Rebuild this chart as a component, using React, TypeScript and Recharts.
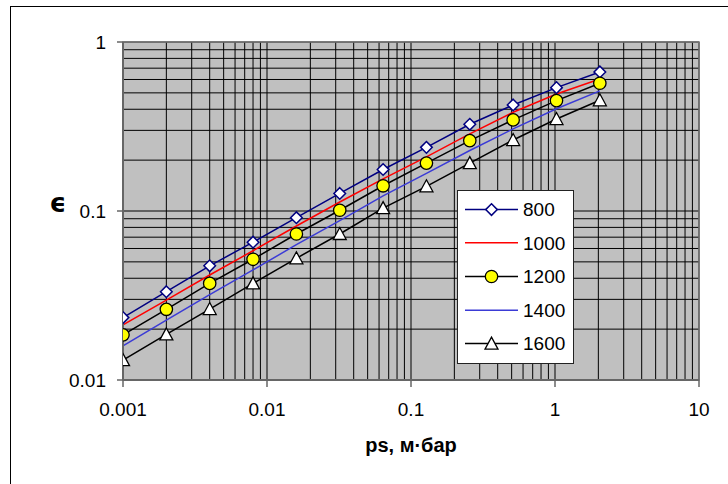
import React from "react";
import {
  LineChart,
  Line,
  XAxis,
  YAxis,
  CartesianGrid,
  ReferenceArea,
} from "recharts";

// ps, mbar
const pressure = [0.001, 0.002, 0.004, 0.008, 0.016, 0.032, 0.064, 0.128, 0.256, 0.512, 1.024, 2.048];

// epsilon per series
const eps800 = [0.0234, 0.0333, 0.0474, 0.0654, 0.0913, 0.127, 0.176, 0.238, 0.326, 0.424, 0.537, 0.665];
const eps1000 = [0.0212, 0.0297, 0.0418, 0.0582, 0.0815, 0.113, 0.155, 0.209, 0.286, 0.384, 0.492, 0.604];
const eps1200 = [0.0185, 0.0262, 0.0373, 0.0518, 0.0731, 0.101, 0.141, 0.192, 0.261, 0.346, 0.45, 0.57];
const eps1400 = [0.0159, 0.0226, 0.032, 0.0448, 0.0632, 0.0877, 0.123, 0.167, 0.228, 0.306, 0.403, 0.514];
const eps1600 = [0.0131, 0.0186, 0.0263, 0.0373, 0.0525, 0.0731, 0.104, 0.14, 0.192, 0.263, 0.35, 0.452];

const seriesNames = ["800", "1000", "1200", "1400", "1600"];

// grid lines (all) and labelled decades
const xTicks = [
  0.001, 0.002, 0.003, 0.004, 0.005, 0.006, 0.007, 0.008, 0.009,
  0.01, 0.02, 0.03, 0.04, 0.05, 0.06, 0.07, 0.08, 0.09,
  0.1, 0.2, 0.3, 0.4, 0.5, 0.6, 0.7, 0.8, 0.9,
  1, 2, 3, 4, 5, 6, 7, 8, 9, 10,
];
const yTicks = [
  0.01, 0.02, 0.03, 0.04, 0.05, 0.06, 0.07, 0.08, 0.09,
  0.1, 0.2, 0.3, 0.4, 0.5, 0.6, 0.7, 0.8, 0.9, 1,
];
const xLabels = [0.001, 0.01, 0.1, 1, 10];
const yLabels = [0.01, 0.1, 1];

const xTitle = "ps, м·бар";
const yTitle = "ϵ";

const data = pressure.map((p, i) => ({
  p,
  "800": eps800[i],
  "1000": eps1000[i],
  "1200": eps1200[i],
  "1400": eps1400[i],
  "1600": eps1600[i],
}));

const FONT = "'Liberation Sans', Arial, sans-serif";

type Marker = "diamond" | "circle" | "triangle" | null;

const styles: Record<string, { stroke: string; marker: Marker; fill: string }> = {
  "800": { stroke: "#000080", marker: "diamond", fill: "#ffffff" },
  "1000": { stroke: "#ff0000", marker: null, fill: "none" },
  "1200": { stroke: "#000000", marker: "circle", fill: "#ffff00" },
  "1400": { stroke: "#3b3bd6", marker: null, fill: "none" },
  "1600": { stroke: "#000000", marker: "triangle", fill: "#ffffff" },
};

function markerShape(kind: Marker, cx: number, cy: number, stroke: string, fill: string, key?: string | number) {
  if (kind === "diamond") {
    const s = 5.8;
    return (
      <polygon
        key={key}
        points={`${cx},${cy - s} ${cx + s},${cy} ${cx},${cy + s} ${cx - s},${cy}`}
        fill={fill}
        stroke={stroke}
        strokeWidth={1.5}
      />
    );
  }
  if (kind === "circle") {
    return <circle key={key} cx={cx} cy={cy} r={6.2} fill={fill} stroke={stroke} strokeWidth={1.3} />;
  }
  if (kind === "triangle") {
    return (
      <polygon
        key={key}
        points={`${cx},${cy - 6.5} ${cx + 6.5},${cy + 5.5} ${cx - 6.5},${cy + 5.5}`}
        fill={fill}
        stroke={stroke}
        strokeWidth={1.3}
      />
    );
  }
  return <g key={key} />;
}

const XTick = (props: any) => {
  const { x, y, payload } = props;
  if (!xLabels.includes(payload.value)) return <g />;
  return (
    <g>
      <line x1={x} x2={x} y1={y - 22} y2={y - 15} stroke="#666" strokeWidth={1.5} />
      <text x={x} y={y} dy="0.72em" textAnchor="middle" fill="#000" fontSize={19} fontFamily={FONT}>
        {String(payload.value)}
      </text>
    </g>
  );
};

const YTick = (props: any) => {
  const { x, y, payload } = props;
  if (!yLabels.includes(payload.value)) return <g />;
  return (
    <g>
      <line x1={x + 11} x2={x + 17} y1={y} y2={y} stroke="#666" strokeWidth={1.5} />
      <text x={x} y={y} dy="0.36em" textAnchor="end" fill="#000" fontSize={19} fontFamily={FONT}>
        {String(payload.value)}
      </text>
    </g>
  );
};

function LegendBox() {
  const rowY = [18.6, 51.8, 85.5, 119.2, 152.6];
  return (
    <div
      style={{
        position: "absolute",
        left: 457,
        top: 190,
        width: 117,
        height: 174,
        boxSizing: "border-box",
        border: "1px solid #222",
        background: "#fff",
      }}
    >
      <svg width={115} height={172} style={{ display: "block" }}>
        {seriesNames.map((name, i) => {
          const st = styles[name];
          const cy = rowY[i];
          return (
            <g key={name}>
              <line x1={7} x2={60} y1={cy} y2={cy} stroke={st.stroke} strokeWidth={1.5} />
              {markerShape(st.marker, 33.5, cy, st.stroke, st.fill)}
              <text x={65} y={cy} dy="0.36em" fontSize={19} fontFamily={FONT} fill="#000">
                {name}
              </text>
            </g>
          );
        })}
      </svg>
    </div>
  );
}

export default function App() {
  return (
    <div
      style={{
        position: "absolute",
        left: 0,
        top: 0,
        width: 728,
        height: 484,
        background: "#fff",
        overflow: "hidden",
        fontFamily: FONT,
      }}
    >
      <div
        style={{
          position: "absolute",
          left: 10,
          top: 6,
          right: 0,
          bottom: 0,
          borderLeft: "1px solid #000",
          borderTop: "1px solid #000",
        }}
      />
      <div style={{ position: "absolute", left: 0, top: 0 }}>
        <LineChart
          width={728}
          height={484}
          data={data}
          margin={{ top: 42, right: 29, bottom: 44, left: 63 }}
        >
          <CartesianGrid stroke="#000" strokeWidth={1} fill="#c0c0c0" />
          <XAxis
            dataKey="p"
            type="number"
            scale="log"
            domain={[0.001, 10]}
            ticks={xTicks}
            interval={0}
            allowDataOverflow
            height={60}
            tickSize={7}
            tickMargin={15}
            tickLine={false}
            tick={<XTick />}
            axisLine={{ stroke: "#666", strokeWidth: 2 }}
          />
          <YAxis
            type="number"
            scale="log"
            domain={[0.01, 1]}
            ticks={yTicks}
            interval={0}
            allowDataOverflow
            width={60}
            tickSize={6}
            tickMargin={11}
            tickLine={false}
            tick={<YTick />}
            axisLine={{ stroke: "#666", strokeWidth: 2 }}
          />
          <ReferenceArea
            x1={0.001}
            x2={10}
            y1={0.01}
            y2={1}
            fill="none"
            fillOpacity={0}
            stroke="#777"
            strokeWidth={1.5}
          />
          {seriesNames.map((name) => {
            const st = styles[name];
            return (
              <Line
                key={name}
                dataKey={name}
                type="linear"
                stroke={st.stroke}
                strokeWidth={1.5}
                isAnimationActive={false}
                dot={
                  st.marker
                    ? (p: any) => markerShape(st.marker, p.cx, p.cy, st.stroke, st.fill, `${name}-${p.index}`)
                    : false
                }
                activeDot={false}
              />
            );
          })}
        </LineChart>
      </div>
      <LegendBox />
      <div
        style={{
          position: "absolute",
          left: 411,
          top: 445,
          transform: "translate(-50%, -50%)",
          fontSize: 20,
          fontWeight: "bold",
          whiteSpace: "nowrap",
          lineHeight: 1,
        }}
      >
        {xTitle}
      </div>
      <div
        style={{
          position: "absolute",
          left: 58,
          top: 203,
          transform: "translate(-50%, -50%)",
          fontSize: 26,
          fontWeight: "bold",
          fontFamily: "'DejaVu Sans', sans-serif",
          lineHeight: 1,
        }}
      >
        {yTitle}
      </div>
    </div>
  );
}
